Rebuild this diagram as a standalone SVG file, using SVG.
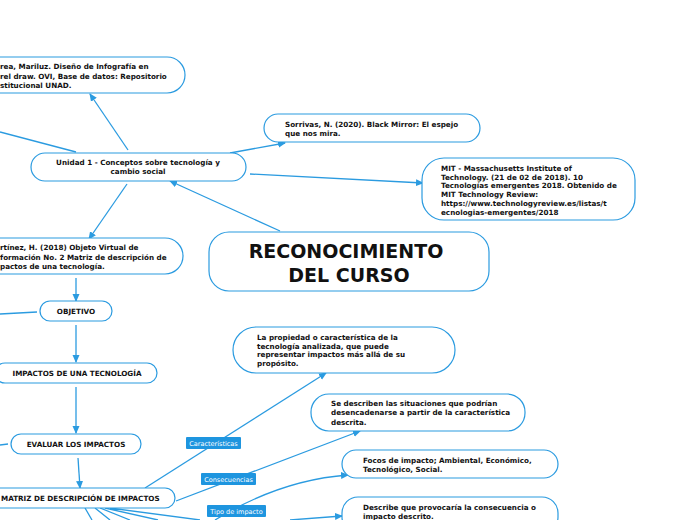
<svg xmlns="http://www.w3.org/2000/svg" width="696" height="520" viewBox="0 0 696 520">
<defs><marker id="a" markerWidth="8" markerHeight="8" refX="7" refY="4" orient="auto" markerUnits="userSpaceOnUse"><path d="M0,0.5 L8,4 L0,7.5 Z" fill="#2b9be0"/></marker></defs>
<style>
.n{fill:#fff;stroke:#2b9be0;stroke-width:1.2}
.t{font-family:"DejaVu Sans",Verdana,sans-serif;font-weight:bold;font-size:7.2px;fill:#111}
.c{fill:none;stroke:#2b9be0;stroke-width:1.3}
.l{fill:#1e95df}
.lt{font-family:"DejaVu Sans",Verdana,sans-serif;font-size:6.5px;fill:#fff}
</style>
<rect width="696" height="520" fill="#fff"/>
<g id="connectors">
<line class="c" x1="128" y1="150" x2="90" y2="94" marker-end="url(#a)"/>
<line class="c" x1="76" y1="152" x2="0" y2="132"/>
<line class="c" x1="230" y1="153" x2="285" y2="143" marker-end="url(#a)"/>
<line class="c" x1="250" y1="174" x2="423" y2="183" marker-end="url(#a)"/>
<line class="c" x1="280" y1="231" x2="170" y2="181" marker-end="url(#a)"/>
<line class="c" x1="127" y1="184" x2="89" y2="239" marker-end="url(#a)"/>
<line class="c" x1="76" y1="278" x2="76" y2="301" marker-end="url(#a)"/>
<line class="c" x1="37" y1="312" x2="0" y2="314"/>
<line class="c" x1="76" y1="325" x2="76" y2="362" marker-end="url(#a)"/>
<line class="c" x1="76" y1="387" x2="76" y2="433" marker-end="url(#a)"/>
<line class="c" x1="8" y1="444" x2="0" y2="445"/>
<line class="c" x1="78" y1="458" x2="80" y2="488" marker-end="url(#a)"/>
<line class="c" x1="145" y1="488" x2="326" y2="373" marker-end="url(#a)"/>
<line class="c" x1="176" y1="501" x2="360" y2="431" marker-end="url(#a)"/>
<path class="c" d="M215,520 Q280,480 348,475" marker-end="url(#a)"/>
<path class="c" d="M290,520 Q315,518 342,516" marker-end="url(#a)"/>
<path class="c" d="M85,508 L92,520 M95,508 L110,520 M100,508 L130,520 M105,508 L158,520 M110,508 L200,520"/>
</g>
<g id="n1"><rect class="n" x="-20" y="57" width="205" height="36" rx="18"/><text class="t" x="0" y="69">rea, Mariluz. Diseño de Infografía en</text><text class="t" x="0" y="78.5">rel draw. OVI, Base de datos: Repositorio</text><text class="t" x="0" y="88">stitucional UNAD.</text></g>
<g id="n2"><rect class="n" x="31" y="153" width="215" height="28" rx="14"/><text class="t" x="138" y="165" text-anchor="middle">Unidad 1 - Conceptos sobre tecnología y</text><text class="t" x="138" y="174" text-anchor="middle">cambio social</text></g>
<g id="n3"><rect class="n" x="264" y="114" width="216" height="28" rx="14"/><text class="t" x="285" y="127">Sorrivas, N. (2020). Black Mirror: El espejo</text><text class="t" x="285" y="136">que nos mira.</text></g>
<g id="n4"><rect class="n" x="422" y="158" width="213" height="62" rx="22"/><text class="t" x="441" y="171">MIT - Massachusetts Institute of</text><text class="t" x="441" y="179.7">Technology. (21 de 02 de 2018). 10</text><text class="t" x="441" y="188.4">Tecnologías emergentes 2018. Obtenido de</text><text class="t" x="441" y="197.1">MIT Technology Review:</text><text class="t" x="441" y="205.8">https://www.technologyreview.es/listas/t</text><text class="t" x="441" y="214.5">ecnologias-emergentes/2018</text></g>
<g id="n5"><rect class="n" x="209" y="232" width="280" height="59" rx="20"/><text x="346" y="258" text-anchor="middle" font-family="DejaVu Sans,Verdana,sans-serif" font-weight="bold" font-size="19" fill="#111">RECONOCIMIENTO</text><text x="349" y="282" text-anchor="middle" font-family="DejaVu Sans,Verdana,sans-serif" font-weight="bold" font-size="19" fill="#111">DEL CURSO</text></g>
<g id="n6"><rect class="n" x="-20" y="238" width="203" height="36" rx="18"/><text class="t" x="0" y="250">rtínez, H. (2018) Objeto Virtual de</text><text class="t" x="0" y="260">formación No. 2 Matriz de descripción de</text><text class="t" x="0" y="269">pactos de una tecnología.</text></g>
<g id="n7"><rect class="n" x="40" y="301" width="72" height="20" rx="10"/><text class="t" x="76" y="314" text-anchor="middle">OBJETIVO</text></g>
<g id="n8"><rect class="n" x="-5" y="363" width="162" height="20" rx="10"/><text class="t" x="77" y="376" text-anchor="middle">IMPACTOS DE UNA TECNOLOGÍA</text></g>
<g id="n9"><rect class="n" x="11" y="434" width="130" height="20" rx="10"/><text class="t" x="76" y="447" text-anchor="middle">EVALUAR LOS IMPACTOS</text></g>
<g id="n10"><rect class="n" x="-10" y="488" width="185" height="20" rx="10"/><text class="t" x="1" y="501">MATRIZ DE DESCRIPCIÓN DE IMPACTOS</text></g>
<g id="n11"><rect class="n" x="233" y="327" width="222" height="46" rx="23"/><text class="t" x="257" y="340">La propiedad o característica de la</text><text class="t" x="257" y="348.7">tecnología analizada, que puede</text><text class="t" x="257" y="357.4">representar impactos más allá de su</text><text class="t" x="257" y="366.1">propósito.</text></g>
<g id="n12"><rect class="n" x="311" y="394" width="214" height="37" rx="18"/><text class="t" x="331" y="406">Se describen las situaciones que podrían</text><text class="t" x="331" y="415">desencadenarse a partir de la característica</text><text class="t" x="331" y="424.5">descrita.</text></g>
<g id="n13"><rect class="n" x="342" y="450" width="216" height="28" rx="14"/><text class="t" x="363" y="463">Focos de impacto; Ambiental, Económico,</text><text class="t" x="363" y="472">Tecnológico, Social.</text></g>
<g id="n14"><rect class="n" x="342" y="497" width="216" height="36" rx="16"/><text class="t" x="363" y="510">Describe que provocaría la consecuencia o</text><text class="t" x="363" y="519">impacto descrito.</text></g>
<g id="labels">
<rect class="l" x="186" y="437" width="55" height="12" rx="1"/><text class="lt" x="213.5" y="445.5" text-anchor="middle">Características</text>
<rect class="l" x="201" y="473" width="55" height="12" rx="1"/><text class="lt" x="228.5" y="481.5" text-anchor="middle">Consecuencias</text>
<rect class="l" x="207" y="505" width="59" height="12" rx="1"/><text class="lt" x="236.5" y="513.5" text-anchor="middle">Tipo de impacto</text>
</g>
</svg>
